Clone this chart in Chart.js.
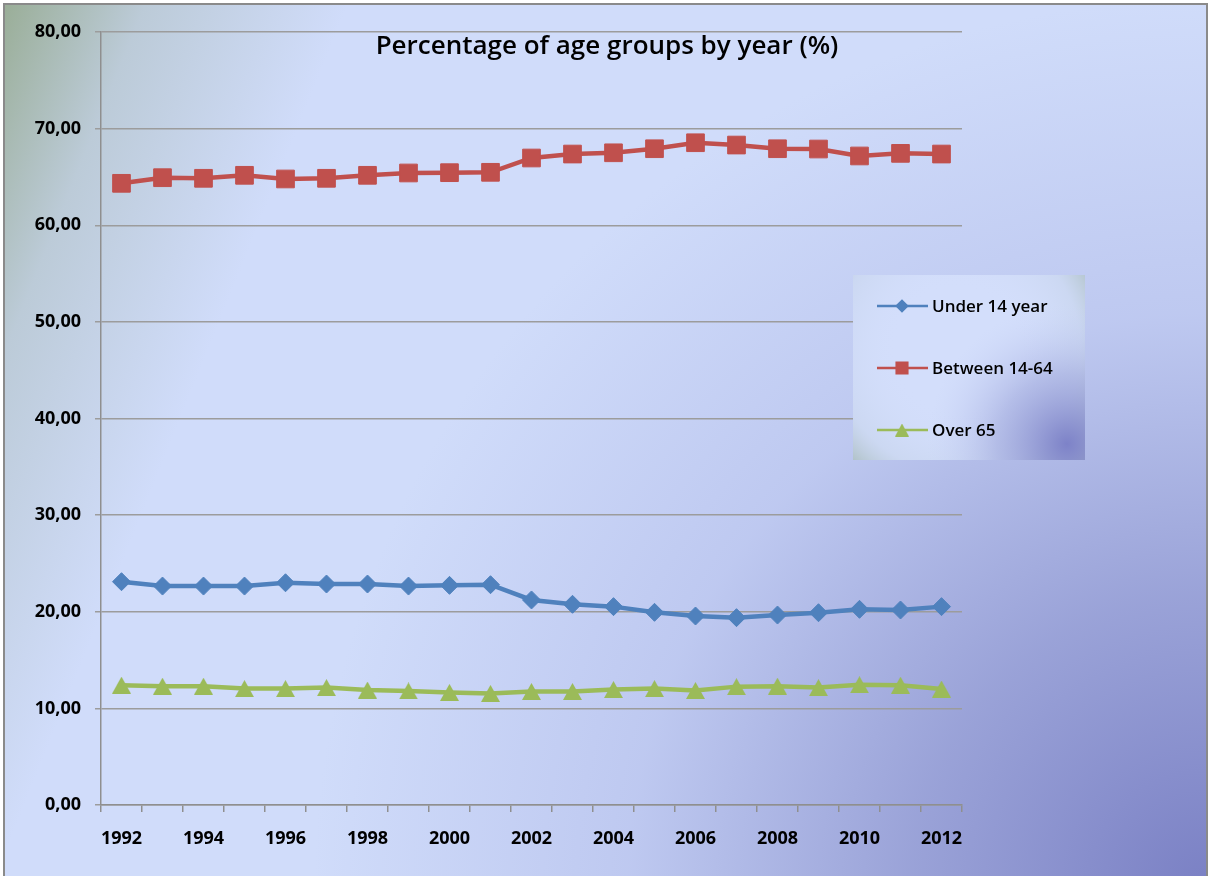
<!DOCTYPE html>
<html>
<head>
<meta charset="utf-8">
<script src="https://cdn.jsdelivr.net/npm/chart.js@4.4.1/dist/chart.umd.min.js"></script>
<style>
  html, body { margin: 0; padding: 0; background: #fff; overflow: hidden; }
  #frame {
    position: absolute; left: 3px; top: 3px; width: 1205px; height: 890px;
    border: 2px solid #8a8a8a; box-sizing: border-box;
    background:
      radial-gradient(circle 1050px at 100% 100%, rgba(122,128,196,1) 0%, rgba(148,156,212,0.9) 28%, rgba(178,188,234,0.6) 55%, rgba(208,222,250,0) 85%),
      linear-gradient(112deg, #9aae98 0%, #bccbd8 9%, #d0dcfa 22%, #d0dcfa 100%);
  }
  #chart { position: absolute; left: 0; top: 0; }
</style>
</head>
<body>
<div id="frame"></div>
<canvas id="chart" width="1214" height="876"></canvas>
<script>
// Age group shares per year (%)
const years = ['1992', '1993', '1994', '1995', '1996', '1997', '1998', '1999', '2000', '2001',
  '2002', '2003', '2004', '2005', '2006', '2007', '2008', '2009', '2010', '2011', '2012'];
const under14 = [23.11, 22.66, 22.66, 22.66, 23.00, 22.87, 22.87, 22.66, 22.73, 22.80,
  21.22, 20.77, 20.53, 19.94, 19.56, 19.39, 19.66, 19.90, 20.25, 20.18, 20.53];
const between14to64 = [64.34, 64.92, 64.86, 65.17, 64.79, 64.86, 65.17, 65.41, 65.44, 65.48,
  66.96, 67.37, 67.50, 67.92, 68.54, 68.30, 67.92, 67.89, 67.17, 67.44, 67.37];
const over65 = [12.40, 12.30, 12.30, 12.05, 12.05, 12.15, 11.90, 11.80, 11.65, 11.55,
  11.75, 11.75, 11.95, 12.05, 11.85, 12.25, 12.30, 12.15, 12.45, 12.40, 12.00];
const seriesNames = ['Under 14 year', 'Between 14-64', 'Over 65'];
const chartTitle = 'Percentage of age groups by year (%)';

const FONT = "'Open Sans', 'DejaVu Sans', sans-serif";

// title sits inside the plot area, so it is painted by hand
const titlePlugin = {
  id: 'titleInPlot',
  afterDraw(chart) {
    const ctx = chart.ctx;
    ctx.save();
    ctx.font = '600 26px ' + FONT;
    ctx.fillStyle = '#000';
    ctx.textAlign = 'center';
    ctx.textBaseline = 'alphabetic';
    ctx.fillText(chartTitle, 607, 54);
    ctx.restore();
  }
};

// triangle marker centred on its bounding box
function triangleMarker(w, h, color) {
  const c = document.createElement('canvas');
  c.width = w; c.height = h;
  const g = c.getContext('2d');
  g.fillStyle = color;
  g.beginPath();
  g.moveTo(w / 2, 0);
  g.lineTo(w, h);
  g.lineTo(0, h);
  g.closePath();
  g.fill();
  return c;
}

// floating legend box on the right with its own shaded fill
const legendBox = {
  id: 'legendBox',
  afterDatasetsDraw(chart) {
    const ctx = chart.ctx;
    const x = 853, y = 275, w = 232, h = 185;
    ctx.save();
    ctx.fillStyle = '#d3defb';
    ctx.fillRect(x, y, w, h);

    let g = ctx.createRadialGradient(x + w * 0.45, y + h * 0.4, 60, x + w * 0.45, y + h * 0.4, 175);
    g.addColorStop(0, 'rgba(211,222,251,0)');
    g.addColorStop(0.55, 'rgba(190,205,225,0.35)');
    g.addColorStop(1, 'rgba(140,165,140,0.95)');
    ctx.fillStyle = g;
    ctx.fillRect(x, y, w, h);

    g = ctx.createRadialGradient(x + w - 18, y + h - 16, 0, x + w - 18, y + h - 16, 140);
    g.addColorStop(0, 'rgba(125,130,200,1)');
    g.addColorStop(0.5, 'rgba(160,168,220,0.6)');
    g.addColorStop(1, 'rgba(200,210,245,0)');
    ctx.fillStyle = g;
    ctx.fillRect(x, y, w, h);

    const sizes = [5, 7.5, 0];
    chart.data.datasets.forEach((ds, i) => {
      const cy = y + 31 + i * 62;
      ctx.strokeStyle = ds.borderColor;
      ctx.lineWidth = 2.5;
      ctx.beginPath();
      ctx.moveTo(877, cy);
      ctx.lineTo(928, cy);
      ctx.stroke();
      ctx.fillStyle = ds.pointBackgroundColor;
      ctx.strokeStyle = ds.pointBorderColor;
      if (typeof ds.pointStyle === 'string') {
        Chart.helpers.drawPoint(ctx, {
          pointStyle: ds.pointStyle, radius: sizes[i], borderWidth: 1, rotation: 0
        }, 902, cy);
      } else {
        ctx.drawImage(legendTriangle, 902 - 7, cy - 6.5);
      }
      ctx.fillStyle = '#000';
      ctx.font = '600 17px ' + FONT;
      ctx.textAlign = 'left';
      ctx.textBaseline = 'middle';
      ctx.fillText(ds.label, 932, cy + 1);
    });
    ctx.restore();
  }
};

const BLUE = '#4f81bd', RED = '#c0504d', GREEN = '#9bbb59';
const plotTriangle = triangleMarker(19, 17, GREEN);
const legendTriangle = triangleMarker(14, 13, GREEN);

new Chart(document.getElementById('chart'), {
  type: 'line',
  data: {
    labels: years,
    datasets: [
      {
        label: seriesNames[0], data: under14,
        borderColor: BLUE, borderWidth: 4.5,
        pointStyle: 'rectRot', pointRadius: 9,
        pointBackgroundColor: BLUE, pointBorderColor: BLUE, pointBorderWidth: 1
      },
      {
        label: seriesNames[1], data: between14to64,
        borderColor: RED, borderWidth: 4.5,
        pointStyle: 'rect', pointRadius: 12.5,
        pointBackgroundColor: RED, pointBorderColor: RED, pointBorderWidth: 1
      },
      {
        label: seriesNames[2], data: over65,
        borderColor: GREEN, borderWidth: 4.5,
        pointStyle: plotTriangle, pointRadius: 10,
        pointBackgroundColor: GREEN, pointBorderColor: GREEN, pointBorderWidth: 0
      }
    ]
  },
  options: {
    responsive: false,
    animation: false,
    devicePixelRatio: 1,
    layout: { padding: { top: 32, right: 252, bottom: 21, left: 0 } },
    plugins: {
      legend: { display: false },
      title: { display: false },
      tooltip: { enabled: false }
    },
    scales: {
      x: {
        offset: true,
        afterFit: s => { s.height = 50; },
        grid: {
          offset: true, drawOnChartArea: false, drawTicks: true,
          tickLength: 7, color: '#8f8f8f', lineWidth: 1.5
        },
        border: { display: true, color: '#8f8f8f', width: 1.5 },
        ticks: {
          autoSkip: false, maxRotation: 0, padding: 16,
          color: '#000', font: { family: FONT, size: 18, weight: 'bold' },
          callback: function (v, i) { return i % 2 === 0 ? this.getLabelForValue(v) : ''; }
        }
      },
      y: {
        min: 0, max: 80,
        afterFit: s => { s.width = 101; },
        grid: { color: '#9c9c9c', lineWidth: 1.5, tickLength: 6, drawTicks: true },
        border: { display: true, color: '#8f8f8f', width: 1.5 },
        ticks: {
          stepSize: 10, padding: 14,
          color: '#000', font: { family: FONT, size: 18, weight: 'bold' },
          callback: v => v.toFixed(2).replace('.', ',')
        }
      }
    }
  },
  plugins: [legendBox, titlePlugin]
});
</script>
</body>
</html>
